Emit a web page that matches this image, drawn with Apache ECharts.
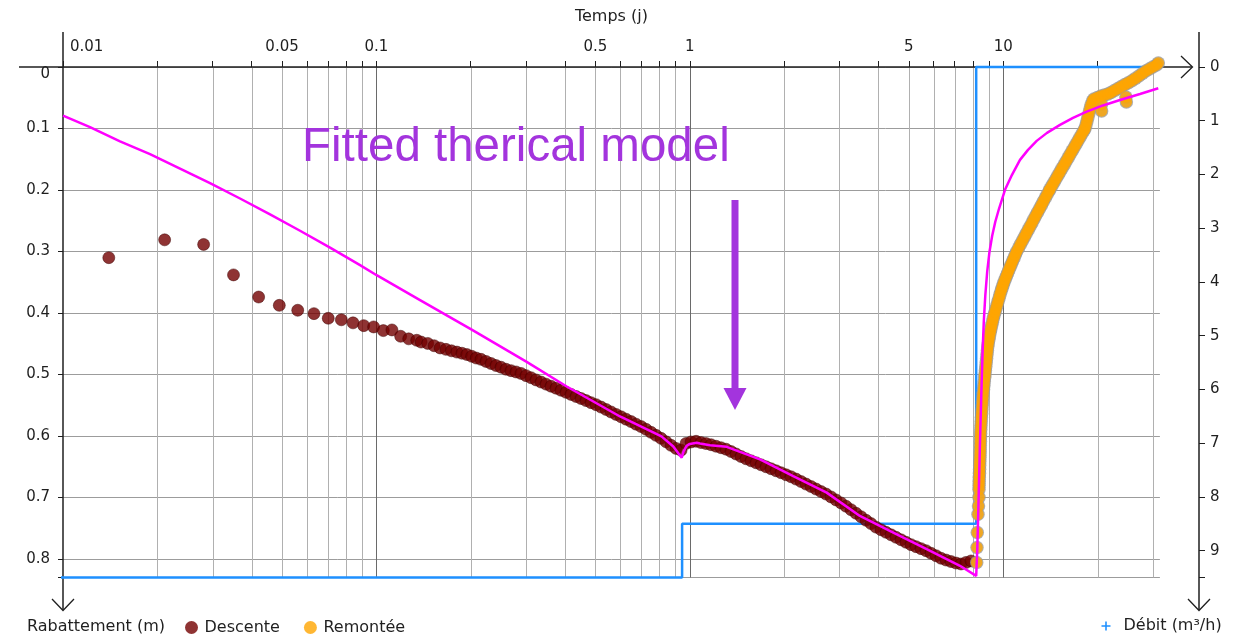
<!DOCTYPE html>
<html>
<head>
<meta charset="utf-8">
<title>Rabattement / Remontée</title>
<script src="https://cdn.jsdelivr.net/npm/echarts@6.0.0/dist/echarts.min.js"></script>
<style>
  html, body { margin: 0; padding: 0; background: #ffffff; }
  #chart { width: 1245px; height: 637px; }
</style>
</head>
<body>
<div id="chart"></div>
<script>
// ---- Axis ranges -------------------------------------------------------
const TIME_MIN = 0.01;
const TIME_MAX = 31.6228;          // 10^1.5 days
const DRAWDOWN_MAX = 0.83;         // m
const RATE_MAX = 9.5;              // m3/h

// Time axis: labelled ticks, all ticks, and vertical rules (decade rules are darker)
const TIME_LABELS = [0.01, 0.05, 0.1, 0.5, 1, 5, 10];
const TIME_TICKS = [0.01, 0.02, 0.03, 0.04, 0.05, 0.06, 0.07, 0.08, 0.09,
                    0.1, 0.2, 0.3, 0.4, 0.5, 0.6, 0.7, 0.8, 0.9,
                    1, 2, 3, 4, 5, 6, 7, 8, 9, 10, 20, 30];
const TIME_RULES_MINOR = [0.02, 0.03, 0.04, 0.05, 0.06, 0.07, 0.08, 0.09,
                          0.2, 0.3, 0.4, 0.5, 0.6, 0.7, 0.8, 0.9,
                          2, 3, 4, 5, 6, 7, 8, 9, 20, 30];
const TIME_RULES_MAJOR = [0.1, 1, 10];

// ---- Measurements: [time (j), drawdown (m)] -----------------------------
const DESCENTE = [
  [0.0140, 0.310], [0.0211, 0.281], [0.0281, 0.2885], [0.0350, 0.338], [0.0421, 0.374],
  [0.0490, 0.3875], [0.0561, 0.3955], [0.0632, 0.401], [0.0702, 0.4085], [0.0773, 0.411],
  [0.0842, 0.416], [0.0911, 0.4205], [0.0980, 0.4226], [0.1052, 0.4286], [0.1121, 0.4275],
  [0.1195, 0.4378], [0.1268, 0.442], [0.1345, 0.4443], [0.1389, 0.4472], [0.1458, 0.4494],
  [0.1528, 0.4532], [0.1597, 0.4568], [0.1667, 0.4591], [0.1736, 0.4614], [0.1806, 0.4635],
  [0.1875, 0.4654], [0.1944, 0.4675], [0.2014, 0.4703], [0.2083, 0.4732],
  [0.2157, 0.4753], [0.2238, 0.4787], [0.2322, 0.4821], [0.2409, 0.4854], [0.2499, 0.4881],
  [0.2592, 0.4914], [0.2689, 0.4937], [0.2790, 0.4958], [0.2894, 0.4982], [0.3003, 0.5018],
  [0.3115, 0.5052], [0.3232, 0.5088], [0.3353, 0.5122], [0.3478, 0.5156], [0.3608, 0.5190],
  [0.3743, 0.5222], [0.3883, 0.5256], [0.4029, 0.5289], [0.4179, 0.5323], [0.4336, 0.5357],
  [0.4498, 0.5390], [0.4666, 0.5424], [0.4841, 0.5458], [0.5022, 0.5490], [0.5210, 0.5529],
  [0.5405, 0.5568], [0.5607, 0.5609], [0.5817, 0.5648], [0.6035, 0.5687], [0.6260, 0.5726],
  [0.6495, 0.5765], [0.6738, 0.5807], [0.6990, 0.5846], [0.7251, 0.5891], [0.7523, 0.5940],
  [0.7804, 0.5989], [0.8096, 0.6037], [0.8399, 0.6094], [0.8714, 0.6151], [0.9040, 0.6201],
  [0.9378, 0.6231], [0.9729, 0.6120], [1.0093, 0.6096], [1.0471, 0.6086], [1.0862, 0.6107],
  [1.1269, 0.6123], [1.1690, 0.6141], [1.2128, 0.6166], [1.2582, 0.6190], [1.3052, 0.6214],
  [1.3541, 0.6252], [1.4047, 0.6292], [1.4573, 0.6333], [1.5118, 0.6370], [1.5684, 0.6403],
  [1.6271, 0.6435], [1.6880, 0.6468], [1.7511, 0.6500], [1.8166, 0.6532], [1.8846, 0.6565],
  [1.9551, 0.6597], [2.0282, 0.6630], [2.1041, 0.6662], [2.1828, 0.6700], [2.2645, 0.6740],
  [2.3492, 0.6781], [2.4371, 0.6821], [2.5283, 0.6862], [2.6229, 0.6903], [2.7210, 0.6943],
  [2.8228, 0.6990], [2.9284, 0.7039], [3.0380, 0.7088], [3.1516, 0.7141], [3.2695, 0.7198],
  [3.3918, 0.7255], [3.5187, 0.7312], [3.6504, 0.7369], [3.7869, 0.7424], [3.9286, 0.7481],
  [4.0756, 0.7524], [4.2281, 0.7565], [4.3863, 0.7606], [4.5504, 0.7646], [4.7206, 0.7687],
  [4.8972, 0.7727], [5.0804, 0.7766], [5.2705, 0.7799], [5.4677, 0.7831], [5.6723, 0.7864],
  [5.8845, 0.7906], [6.1046, 0.7946], [6.3330, 0.7987], [6.5700, 0.8016], [6.8158, 0.8041],
  [7.0708, 0.8065], [7.3353, 0.8080], [7.6097, 0.8055], [7.8944, 0.8031],
  [3.95, 0.8334]
];

const REMONTEE = [
  [8.231, 0.8057], [8.249, 0.7813], [8.267, 0.7570], [8.310, 0.7273], [8.340, 0.7138], [8.371, 0.6997],
  [8.371, 0.6867], [8.377, 0.6802], [8.383, 0.6737], [8.390, 0.6672], [8.402, 0.6607], [8.408, 0.6542],
  [8.414, 0.6477], [8.420, 0.6412], [8.433, 0.6347], [8.439, 0.6282], [8.445, 0.6218], [8.451, 0.6153],
  [8.458, 0.6088], [8.464, 0.6023], [8.470, 0.5958], [8.483, 0.5893], [8.495, 0.5828], [8.508, 0.5763],
  [8.520, 0.5698], [8.539, 0.5633], [8.552, 0.5568], [8.570, 0.5503], [8.589, 0.5438], [8.608, 0.5373],
  [8.627, 0.5308], [8.653, 0.5244], [8.678, 0.5179], [8.704, 0.5114], [8.729, 0.5049], [8.748, 0.5000],
  [8.774, 0.4935], [8.800, 0.4870], [8.826, 0.4805], [8.852, 0.4740], [8.878, 0.4675], [8.904, 0.4610],
  [8.930, 0.4545], [8.963, 0.4489], [9.003, 0.4432], [9.043, 0.4375], [9.089, 0.4318], [9.136, 0.4261],
  [9.183, 0.4205], [9.237, 0.4148], [9.292, 0.4091], [9.353, 0.4034], [9.415, 0.3984],
  [9.485, 0.3929], [9.555, 0.3872], [9.625, 0.3815], [9.696, 0.3758], [9.768, 0.3701], [9.840, 0.3644],
  [9.912, 0.3596], [9.985, 0.3547], [10.059, 0.3498], [10.148, 0.3450], [10.238, 0.3401], [10.329, 0.3352],
  [10.420, 0.3304], [10.512, 0.3255], [10.613, 0.3206], [10.715, 0.3154], [10.825, 0.3104], [10.929, 0.3052],
  [11.042, 0.3000], [11.197, 0.2942], [11.355, 0.2883], [11.515, 0.2825], [11.676, 0.2768], [11.841, 0.2709],
  [12.008, 0.2651], [12.177, 0.2594], [12.348, 0.2536], [12.522, 0.2477], [12.698, 0.2420], [12.877, 0.2362],
  [13.058, 0.2304], [13.242, 0.2247], [13.428, 0.2188], [13.617, 0.2130], [13.808, 0.2073], [14.003, 0.2015],
  [14.106, 0.1985], [14.315, 0.1929], [14.526, 0.1873], [14.741, 0.1817], [14.959, 0.1761], [15.180, 0.1705],
  [15.404, 0.1648], [15.632, 0.1593], [15.863, 0.1536], [16.098, 0.1481], [16.336, 0.1424], [16.578, 0.1367],
  [16.823, 0.1312], [17.071, 0.1255], [17.324, 0.1200], [17.580, 0.1143], [17.840, 0.1086], [18.104, 0.1031],
  [18.237, 0.1000], [18.371, 0.0942], [18.507, 0.0877], [18.643, 0.0812], [18.781, 0.0747], [18.919, 0.0682],
  [19.059, 0.0617], [19.270, 0.0552], [19.483, 0.0519], [19.989, 0.0495], [20.508, 0.0471], [21.042, 0.0455],
  [21.588, 0.0438], [22.067, 0.0416], [22.640, 0.0383], [23.228, 0.0351], [23.832, 0.0318], [24.450, 0.0286],
  [25.087, 0.0255], [25.739, 0.0222], [26.408, 0.0185], [27.094, 0.0146], [27.797, 0.0106], [28.519, 0.0065],
  [29.260, 0.0032], [30.020, 0.0000], [30.846, -0.0032], [31.257, -0.0065],
  [20.583, 0.0601], [20.613, 0.0714], [24.631, 0.0487], [24.721, 0.0568]
];

// Fitted theoretical drawdown curve: [time (j), drawdown (m)]
const MODELE = [
  [0.01, 0.079], [0.012194, 0.0977], [0.015202, 0.1208], [0.018951, 0.1416], [0.023625, 0.1651],
  [0.029451, 0.1888], [0.036716, 0.2138], [0.045772, 0.2396], [0.057061, 0.2662], [0.071137, 0.2937],
  [0.088682, 0.3221], [0.1002, 0.3385], [0.1378, 0.3789], [0.2014, 0.4269], [0.3017, 0.4794],
  [0.4048, 0.5195], [0.5989, 0.5682], [0.8122, 0.6006], [0.8858, 0.6169], [0.9423, 0.6352],
  [0.955, 0.625], [0.977, 0.616], [1.0, 0.6128], [1.052, 0.611], [1.078, 0.612],
  [1.16, 0.615], [1.312, 0.6175], [1.675, 0.638], [2.138, 0.665], [2.734, 0.692],
  [3.49, 0.730], [4.46, 0.757], [5.70, 0.784], [7.28, 0.811], [8.2, 0.8274],
  [8.267, 0.7841], [8.322, 0.7289], [8.371, 0.6753], [8.420, 0.6218], [8.476, 0.5682],
  [8.532, 0.5162], [8.595, 0.4627], [8.671, 0.4140], [8.767, 0.3718], [8.891, 0.3328],
  [9.042, 0.3003], [9.223, 0.2744], [9.436, 0.2516], [9.696, 0.2305], [10.133, 0.1997],
  [10.668, 0.1753], [11.313, 0.1510], [11.999, 0.1347], [12.790, 0.1201], [13.796, 0.1071],
  [15.179, 0.0942], [16.700, 0.0828], [18.468, 0.0726], [20.819, 0.0625], [23.586, 0.0536],
  [27.321, 0.0438], [31.25, 0.0346]
];

// Pumping rate steps: [time (j), rate (m3/h)]
const DEBIT = [
  [0.0093, 9.5], [0.945, 9.5], [0.945, 8.5], [8.2, 8.5], [8.2, 0], [31.0, 0]
];

// ---- Layout -------------------------------------------------------------
const GRID = { left: 63, top: 67, width: 1096.9, height: 510.5 };
const RIGHT_AXIS_X = 1199;
const FONT = '"DejaVu Sans", Verdana, sans-serif';
const INK = '#1f1f1f';
const PURPLE = '#a334dd';
const PLUS_ICON = 'path://M3.3,0H4.7V3.3H8V4.7H4.7V8H3.3V4.7H0V3.3H3.3Z';

function verticalRule(color) {
  return function (params, api) {
    const t = api.value(0);
    const a = api.coord([t, 0]);
    const b = api.coord([t, DRAWDOWN_MAX]);
    const x = Math.round(a[0]) + 0.5;
    return {
      type: 'line',
      silent: true,
      shape: { x1: x, y1: a[1], x2: x, y2: b[1] },
      style: { stroke: color, lineWidth: 1 }
    };
  };
}

function fmtTime(v) {
  const txt = String(+Number(v).toPrecision(6));
  return Math.abs(v - TIME_MIN) < 1e-9 ? '{first|' + txt + '}' : txt;
}

const axisFont = { fontSize: 15, fontFamily: FONT, color: INK };

const chart = echarts.init(document.getElementById('chart'), null, { renderer: 'canvas' });

chart.setOption({
  animation: false,
  backgroundColor: '#ffffff',
  grid: { left: GRID.left, top: GRID.top, width: GRID.width, height: GRID.height, containLabel: false },
  xAxis: {
    type: 'log',
    logBase: 10,
    position: 'top',
    min: TIME_MIN,
    max: TIME_MAX,
    name: 'Temps (j)',
    nameLocation: 'middle',
    nameGap: 42,
    nameTextStyle: { fontSize: 16, fontFamily: FONT, color: INK },
    axisLine: { show: false },
    axisTick: { show: true, length: 6, customValues: TIME_TICKS, lineStyle: { color: INK, width: 1 } },
    axisLabel: Object.assign({
      customValues: TIME_LABELS,
      margin: 12,
      alignMinLabel: 'left',
      formatter: fmtTime,
      rich: { first: Object.assign({ padding: [0, 0, 0, 7] }, axisFont) }
    }, axisFont),
    splitLine: { show: false },
    minorTick: { show: false },
    minorSplitLine: { show: false }
  },
  yAxis: [
    {
      type: 'value',
      inverse: true,
      position: 'left',
      min: 0,
      max: DRAWDOWN_MAX,
      interval: 0.1,
      name: 'Rabattement (m)',
      nameLocation: 'end',
      nameGap: 41,
      nameTextStyle: { fontSize: 16, fontFamily: FONT, color: INK, padding: [0, 0, 0, 66] },
      axisLine: { show: false },
      axisTick: { show: true, length: 5, lineStyle: { color: INK, width: 1 } },
      axisLabel: Object.assign({
        margin: 13,
        verticalAlignMinLabel: 'top',
        formatter: function (v) {
          const r = Math.round(v * 10) / 10;
          return Math.abs(r - v) < 1e-6 ? String(r) : '';
        }
      }, axisFont),
      splitLine: { show: true, lineStyle: { color: '#9c9c9c', width: 1 } }
    },
    {
      type: 'value',
      inverse: true,
      position: 'right',
      offset: RIGHT_AXIS_X - (GRID.left + GRID.width),
      min: 0,
      max: RATE_MAX,
      interval: 1,
      axisLine: { show: false },
      axisTick: { show: true, length: 6, lineStyle: { color: INK, width: 1 } },
      axisLabel: Object.assign({
        margin: 11,
        formatter: function (v) { return Math.abs(v - Math.round(v)) < 1e-6 ? String(Math.round(v)) : ''; }
      }, axisFont),
      splitLine: { show: false }
    }
  ],
  legend: [
    {
      data: ['Descente', 'Remontée'],
      left: 185,
      top: 619.5,
      padding: 0,
      icon: 'circle',
      itemWidth: 16,
      itemHeight: 13,
      itemGap: 24,
      selectedMode: false,
      itemStyle: { borderWidth: 0 },
      textStyle: { fontSize: 16, fontFamily: FONT, color: INK }
    },
    {
      data: [{ name: 'Débit (m³/h)', icon: PLUS_ICON }],
      left: 1101.5,
      top: 618,
      padding: 0,
      itemWidth: 9,
      itemHeight: 9,
      selectedMode: false,
      textStyle: { fontSize: 16, fontFamily: FONT, color: INK, padding: [0, 0, 0, 8] }
    }
  ],
  graphic: [
    // axis lines with open arrow heads (kept under the data marks)
    { type: 'line', z: 2, silent: true, shape: { x1: 19, y1: GRID.top, x2: 1192, y2: GRID.top }, style: { stroke: INK, lineWidth: 1.5 } },
    { type: 'polyline', z: 2, silent: true, shape: { points: [[1181, 56], [1192.5, GRID.top], [1181, 78]] }, style: { stroke: INK, lineWidth: 1.3, fill: null } },
    { type: 'line', z: 2, silent: true, shape: { x1: GRID.left, y1: 32, x2: GRID.left, y2: 610 }, style: { stroke: INK, lineWidth: 1.5 } },
    { type: 'polyline', z: 2, silent: true, shape: { points: [[52, 599], [GRID.left, 610.5], [74, 599]] }, style: { stroke: INK, lineWidth: 1.3, fill: null } },
    { type: 'line', z: 2, silent: true, shape: { x1: RIGHT_AXIS_X, y1: 32, x2: RIGHT_AXIS_X, y2: 610 }, style: { stroke: INK, lineWidth: 1.5 } },
    { type: 'polyline', z: 2, silent: true, shape: { points: [[RIGHT_AXIS_X - 11, 599], [RIGHT_AXIS_X, 610.5], [RIGHT_AXIS_X + 11, 599]] }, style: { stroke: INK, lineWidth: 1.3, fill: null } },
    // annotation
    {
      type: 'text', z: 10, silent: true, x: 302, y: 147.5,
      style: { text: 'Fitted therical model', font: '47.5px "Liberation Sans", Arial, sans-serif', fill: PURPLE, align: 'left', verticalAlign: 'middle' }
    },
    { type: 'rect', z: 10, silent: true, shape: { x: 731.5, y: 200, width: 7, height: 190 }, style: { fill: PURPLE } },
    { type: 'polygon', z: 10, silent: true, shape: { points: [[723.5, 388], [746.5, 388], [735, 410]] }, style: { fill: PURPLE } }
  ],
  series: [
    {
      type: 'custom', name: 'rules-minor', silent: true, z: 1,
      xAxisIndex: 0, yAxisIndex: 0,
      data: TIME_RULES_MINOR.map(function (t) { return [t, 0]; }),
      encode: { x: 0, y: 1 },
      renderItem: verticalRule('#b0b0b0')
    },
    {
      type: 'custom', name: 'rules-major', silent: true, z: 1,
      xAxisIndex: 0, yAxisIndex: 0,
      data: TIME_RULES_MAJOR.map(function (t) { return [t, 0]; }),
      encode: { x: 0, y: 1 },
      renderItem: verticalRule('#6a6a6a')
    },
    {
      type: 'line', name: 'Débit (m³/h)', yAxisIndex: 1, z: 3,
      data: DEBIT, showSymbol: false, symbol: PLUS_ICON, clip: false,
      lineStyle: { color: '#1e90ff', width: 2.5 },
      itemStyle: { color: '#1e90ff' }
    },
    {
      type: 'scatter', name: 'Descente', z: 4,
      data: DESCENTE, symbolSize: 12,
      itemStyle: { color: '#730000', borderColor: '#3c0000', borderWidth: 0.6 }
    },
    {
      type: 'scatter', name: 'Remontée contour', z: 5, silent: true, clip: false,
      data: REMONTEE, symbolSize: 13.5,
      itemStyle: { color: '#9a9a9a' }
    },
    {
      type: 'scatter', name: 'Remontée', z: 6, clip: false,
      data: REMONTEE, symbolSize: 11.5,
      itemStyle: { color: '#ffa500' }
    },
    {
      type: 'line', name: 'Modèle', z: 7,
      data: MODELE, showSymbol: false,
      lineStyle: { color: '#ff00ff', width: 2.5 },
      itemStyle: { color: '#ff00ff' }
    }
  ]
});
</script>
</body>
</html>
